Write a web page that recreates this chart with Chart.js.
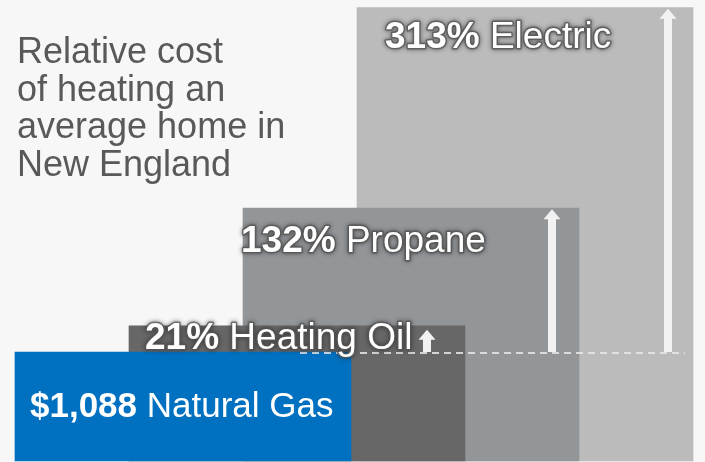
<!DOCTYPE html>
<html>
<head>
<meta charset="utf-8">
<script src="https://cdn.jsdelivr.net/npm/chart.js@4"></script>
<style>
  body { margin: 0; background: #f7f7f7; }
  #wrap { width: 705px; height: 462px; }
</style>
</head>
<body>
<div id="wrap"><canvas id="chart"></canvas></div>
<script>
// Data
const fuels = ["Natural Gas", "Heating Oil", "Propane", "Electric"];
const relativeCost = [100, 124, 232, 416]; // bar heights, natural gas = 100
const valueLabels = ["$1,088", "21%", "132%", "313%"];
const titleLines = ["Relative cost", "of heating an", "average home in", "New England"];

const barColors = ["#0070c0", "#676767", "#939699", "#bbbbbb"];
const FONT = '"Liberation Sans", Arial, sans-serif';

// label placement relative to each bar (left edge / top edge)
const labelDx = [15, 16, -2, 28];
const labelDy = [65, 23, 44, 40];
const arrowInset = [0, 38, 27, 25];

function drawArrow(ctx, x, yBottom, yTop) {
  const shaft = 8, headW = 17, headH = 10;
  ctx.fillStyle = "#f2f2f2";
  ctx.fillRect(x - shaft / 2, yTop + headH - 1, shaft, yBottom - yTop - headH + 1);
  ctx.beginPath();
  ctx.moveTo(x, yTop);
  ctx.lineTo(x + headW / 2, yTop + headH);
  ctx.lineTo(x - headW / 2, yTop + headH);
  ctx.closePath();
  ctx.fill();
}

const overlay = {
  id: "overlay",
  afterDatasetsDraw(chart) {
    const ctx = chart.ctx;
    const boxes = fuels.map((f, i) => {
      const b = chart.getDatasetMeta(i).data[i];
      return { left: b.x - b.width / 2, right: b.x + b.width / 2, top: b.y, bottom: b.base };
    });
    const gasTop = boxes[0].top;

    ctx.save();
    // dashed baseline at natural gas level
    ctx.strokeStyle = "rgba(232,232,232,0.85)";
    ctx.lineWidth = 2;
    ctx.setLineDash([7, 5]);
    ctx.beginPath();
    ctx.moveTo(boxes[0].right - 51, gasTop + 1);
    ctx.lineTo(boxes[3].right - 8, gasTop + 1);
    ctx.stroke();
    ctx.setLineDash([]);

    // arrows
    for (let i = 1; i < boxes.length; i++) {
      const tip = i === 1 ? boxes[i].top + 4 : boxes[i].top + 1;
      drawArrow(ctx, boxes[i].right - arrowInset[i], gasTop, tip);
    }

    // labels
    ctx.textBaseline = "alphabetic";
    ctx.lineJoin = "round";
    boxes.forEach((bx, i) => {
      const size = i === 0 ? 35 : 37;
      const x = bx.left + labelDx[i];
      const y = bx.top + labelDy[i];
      const boldFont = "bold " + size + "px " + FONT;
      const regFont = size + "px " + FONT;
      ctx.font = boldFont;
      const w = ctx.measureText(valueLabels[i] + " ").width;
      if (i > 0) {
        // dark halo behind the white text
        ctx.shadowColor = "rgba(40,40,40,0.9)";
        ctx.shadowBlur = 4;
        ctx.strokeStyle = "rgba(85,85,85,0.75)";
        ctx.lineWidth = 3;
        ctx.font = boldFont;
        ctx.strokeText(valueLabels[i], x, y);
        ctx.font = regFont;
        ctx.strokeText(fuels[i], x + w, y);
        ctx.shadowColor = "transparent";
        ctx.shadowBlur = 0;
      }
      ctx.fillStyle = "#ffffff";
      ctx.font = boldFont;
      ctx.fillText(valueLabels[i], x, y);
      ctx.font = regFont;
      ctx.fillText(fuels[i], x + w, y);
    });

    // title
    ctx.fillStyle = "#595959";
    ctx.font = "36px " + FONT;
    titleLines.forEach((line, i) => {
      ctx.fillText(line, 17, 63 + i * 37.7);
    });
    ctx.restore();
  }
};

const ctx = document.getElementById("chart").getContext("2d");
new Chart(ctx, {
  type: "bar",
  data: {
    labels: fuels,
    datasets: fuels.map((f, i) => ({
      label: f,
      data: relativeCost.map((v, j) => (j === i ? v : null)),
      backgroundColor: barColors[i],
      borderWidth: 0,
      barThickness: 336,
      grouped: false,
      clip: false,
    })),
  },
  options: {
    responsive: true,
    maintainAspectRatio: false,
    animation: false,
    layout: { padding: { left: 183, right: 180, top: 0, bottom: 1 } },
    scales: {
      x: { display: false, offset: false },
      y: { display: false, min: 0, max: 423 },
    },
    plugins: { legend: { display: false }, tooltip: { enabled: false } },
  },
  plugins: [overlay],
});
</script>
</body>
</html>
